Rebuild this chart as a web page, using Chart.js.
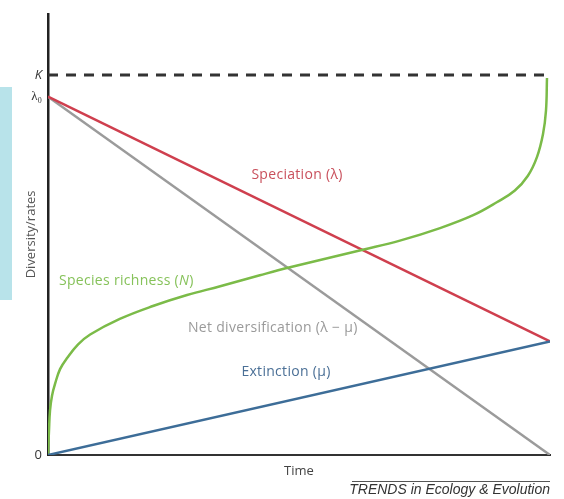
<!DOCTYPE html>
<html lang="en">
<head>
    <meta charset="UTF-8">
    <title>Diversity and rates over time</title>
    <script src="https://cdn.jsdelivr.net/npm/chart.js"></script>
    <style>
        body { margin: 0; background: #fff; }
        .wrap { position: relative; width: 564px; height: 499px; }
        .band { position: absolute; left: 0; top: 87px; width: 12px; height: 213px; background: #b8e3ea; }
        canvas { position: absolute; left: 0; top: 0; }
    </style>
</head>
<body>
<div class="wrap">
    <div class="band"></div>
    <canvas id="chart" width="564" height="499"></canvas>
</div>
<script>
    // values on a 0..100 scale where 100 = K (carrying capacity)
    const K = 100;
    const lambda0 = 94.3;
    const rateEnd = 29.9;
    const timeEnd = 100;

    const speciation = [{x: 0, y: lambda0}, {x: timeEnd, y: rateEnd}];
    const extinction = [{x: 0, y: 0}, {x: timeEnd, y: rateEnd}];
    const netDiv = [{x: 0, y: lambda0}, {x: timeEnd, y: 0}];
    const carrying = [{x: 0, y: K}, {x: 99.6, y: K}];

    const richnessX = [0, 0.2, 0.4, 0.8, 1.4, 2.4, 3.8, 6.0, 8.4, 14.3, 20.9, 27.7, 34.3, 42.2, 48.2, 62.7, 70.1, 78.1, 84.7, 89.4, 93.0, 95.6, 97.4, 98.6, 99.2, 99.4];
    const richnessY = [0, 6.5, 11.7, 15.6, 18.7, 22.6, 25.5, 29.1, 31.7, 35.8, 39.2, 42.1, 44.4, 47.3, 49.4, 54.0, 56.4, 59.7, 63.1, 66.5, 69.6, 73.5, 78.4, 84.4, 90.6, 99.2];
    const richness = richnessX.map((x, i) => ({x: x, y: richnessY[i]}));

    const tickValues = [0, lambda0, K];
    const tickLabels = ['0', 'λ₀', 'K'];

    const font = '"Open Sans", sans-serif';

    const annotations = {
        id: 'annotations',
        afterDraw(chart) {
            const c = chart.ctx;
            c.save();
            c.textBaseline = 'middle';
            c.letterSpacing = '0.3px';
            c.font = '14px ' + font;

            c.textAlign = 'center';
            c.fillStyle = '#c9505c';
            c.fillText('Speciation (λ)', 297, 175);

            c.fillStyle = '#4a6f96';
            c.fillText('Extinction (μ)', 286, 372);

            c.textAlign = 'left';
            c.fillStyle = '#9a9a9a';
            c.fillText('Net diversification (λ − μ)', 188, 328);

            c.fillStyle = '#86c25a';
            const s = 'Species richness (';
            c.fillText(s, 59, 281);
            let w = c.measureText(s).width;
            c.font = 'italic 14px ' + font;
            c.fillText('N', 59 + w, 281);
            w += c.measureText('N').width;
            c.font = '14px ' + font;
            c.fillText(')', 59 + w, 281);

            // source line
            c.letterSpacing = '0px';
            c.strokeStyle = '#555';
            c.lineWidth = 1;
            c.beginPath();
            c.moveTo(352, 481.5);
            c.lineTo(550, 481.5);
            c.stroke();
            c.textAlign = 'right';
            c.textBaseline = 'alphabetic';
            c.fillStyle = '#333';
            c.font = 'italic 14px "Liberation Sans", Arial, sans-serif';
            c.fillText('TRENDS in Ecology & Evolution', 550, 494);
            c.restore();
        }
    };

    new Chart(document.getElementById('chart'), {
        type: 'line',
        data: {
            datasets: [
                {data: carrying, borderColor: '#333', borderWidth: 3, borderDash: [10, 8]},
                {data: extinction, borderColor: '#3d6d98', borderWidth: 2.5},
                {data: richness, borderColor: '#7bbb48', borderWidth: 2.5, tension: 0.4},
                {data: speciation, borderColor: '#cf3f4e', borderWidth: 2.5},
                {data: netDiv, borderColor: '#9b9b9b', borderWidth: 2.5}
            ]
        },
        options: {
            responsive: false,
            animation: false,
            events: [],
            layout: {padding: {top: 8, right: 14}},
            elements: {point: {radius: 0}},
            plugins: {legend: {display: false}, tooltip: {enabled: false}},
            scales: {
                x: {
                    type: 'linear',
                    min: 0,
                    max: timeEnd,
                    grid: {display: false, drawTicks: false},
                    border: {color: '#333', width: 2},
                    ticks: {display: false},
                    title: {display: true, text: 'Time', color: '#444', font: {family: font, size: 13}, padding: {top: 0, bottom: 20}},
                    afterFit(scale) { scale.height = 44; }
                },
                y: {
                    min: 0,
                    max: 116.1,
                    grid: {display: false, drawTicks: false},
                    border: {color: '#222', width: 2.5},
                    afterBuildTicks(scale) { scale.ticks = tickValues.map(v => ({value: v})); },
                    ticks: {
                        padding: 6,
                        color: '#333',
                        font: ctx => ({
                            family: ctx.tick && ctx.tick.value === lambda0 ? '"Liberation Serif", serif' : font,
                            size: 13,
                            style: ctx.tick && ctx.tick.value === K ? 'italic' : 'normal'
                        }),
                        callback: (v) => tickLabels[tickValues.indexOf(v)]
                    },
                    title: {display: true, text: 'Diversity/rates', color: '#555', font: {family: font, size: 13}, padding: {top: 23, bottom: 0}},
                    afterFit(scale) { scale.width = 48; }
                }
            }
        },
        plugins: [annotations]
    });
</script>
</body>
</html>
